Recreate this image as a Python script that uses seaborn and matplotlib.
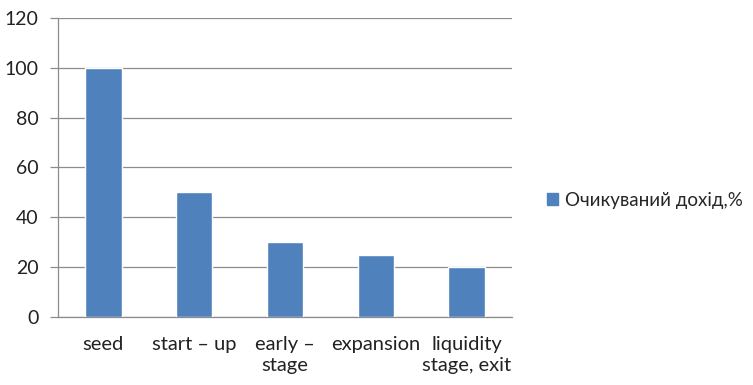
import numpy as np
import pandas as pd
import matplotlib
matplotlib.use("Agg")
import matplotlib.pyplot as plt
import seaborn as sns
from matplotlib.patches import Patch

categories = ["seed", "start – up", "early –\nstage", "expansion", "liquidity\nstage, exit"]
values = [100, 50, 30, 25, 20]
series_name = "Очикуваний дохід,%"
yticks = [0, 20, 40, 60, 80, 100, 120]

sns.set_theme(style="white")
plt.rcParams['font.family'] = ['Lato', 'DejaVu Sans']

df = pd.DataFrame({"stage": categories, "value": values})

fig = plt.figure(figsize=(7.53, 3.85), dpi=100)
ax = fig.add_axes([0.077, 0.177, 0.603, 0.776])
color = "#4F81BD"
sns.barplot(data=df, x="stage", y="value", color=color, width=0.4, ax=ax,
            saturation=1, zorder=3)

ax.set_ylim(0, 120)
ax.set_xlim(-0.5, len(categories) - 0.5)
ax.set_yticks(yticks)
ax.set_yticklabels([str(v) for v in yticks], fontsize=14, color="#222222")
ax.yaxis.grid(True, color="#8c8c8c", linewidth=0.9, zorder=0)
ax.set_xlabel("")
ax.set_ylabel("")
ax.tick_params(axis="x", length=0, labelsize=14.5, labelcolor="#222222", pad=14)
for lab in ax.get_xticklabels():
    lab.set_linespacing(1.25)
ax.set_xticks(np.arange(-0.5, len(categories)), minor=True)
ax.tick_params(axis="x", which="minor", length=6, color="#8c8c8c", width=0.9)
ax.tick_params(axis="y", length=6, color="#8c8c8c", width=0.9, left=True, pad=8)
for s in ["top", "right"]:
    ax.spines[s].set_visible(False)
for s in ["left", "bottom"]:
    ax.spines[s].set_color("#8c8c8c")
    ax.spines[s].set_linewidth(0.9)

handles = [Patch(facecolor=color, edgecolor=color)]
fig.legend(handles, [series_name], loc="center left", bbox_to_anchor=(0.726, 0.48),
           frameon=False, fontsize=13.5, handlelength=0.6, handleheight=0.6,
           handletextpad=0.4, borderaxespad=0, borderpad=0)

fig.savefig("out.png", dpi=100)
